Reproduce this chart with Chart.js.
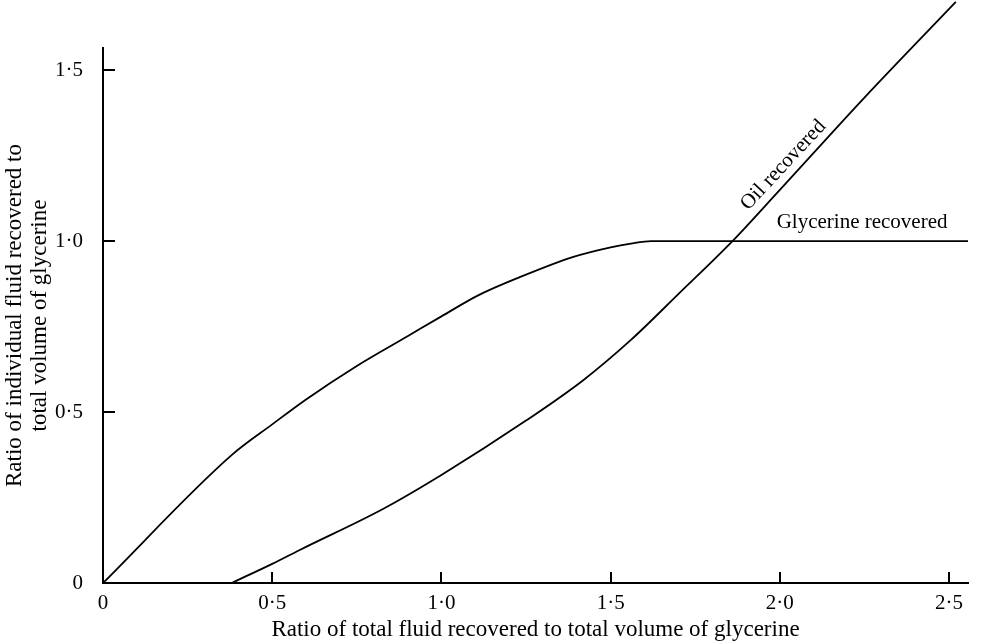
<!DOCTYPE html>
<html lang="en">
<head>
  <meta charset="UTF-8">
  <title>Fluid recovered</title>
  <style>
    html, body { margin: 0; padding: 0; background: #fff; }
    .chart-container { position: relative; width: 984px; height: 644px; }
  </style>
</head>
<body>
  <div class="chart-container">
    <canvas id="recoveryChart"></canvas>
  </div>

  <script src="https://cdn.jsdelivr.net/npm/chart.js"></script>
  <script>
    // values
    const glycerineX = [0, 0.38, 0.5, 0.6, 0.75, 0.9, 1.0, 1.11, 1.23, 1.39, 1.5, 1.56, 1.62, 2.556];
    const glycerineY = [0, 0.374, 0.464, 0.537, 0.635, 0.722, 0.78, 0.842, 0.894, 0.954, 0.982, 0.993, 1.0, 1.0];
    const oilX = [0.38, 0.5, 0.58, 0.83, 1.0, 1.25, 1.42, 1.56, 1.7, 1.86, 2.0, 2.25, 2.52];
    const oilY = [0, 0.056, 0.096, 0.218, 0.316, 0.475, 0.594, 0.711, 0.845, 1.0, 1.15, 1.42, 1.70];
    const xTicks = [0, 0.5, 1.0, 1.5, 2.0, 2.5];
    const yTicks = [0, 0.5, 1.0, 1.5];

    const serif = 'Liberation Serif';
    const toPoints = (xs, ys) => xs.map((x, i) => ({ x: x, y: ys[i] }));
    const fmt = v => v === 0 ? '0' : v.toFixed(1).replace('.', '\u00b7');

    // curve labels
    const curveLabels = {
      id: 'curveLabels',
      afterDatasetsDraw(chart) {
        const { ctx, scales: { x, y } } = chart;
        ctx.save();
        ctx.fillStyle = '#000';
        ctx.font = '21px "' + serif + '"';
        ctx.textAlign = 'center';
        ctx.textBaseline = 'middle';
        ctx.fillText('Glycerine recovered', x.getPixelForValue(2.243), y.getPixelForValue(1.0) - 19);

        // sits just above-left of the oil curve
        const px = x.getPixelForValue(2.04);
        const py = y.getPixelForValue(1.193);
        ctx.translate(px - 10, py - 10);
        ctx.rotate(-47 * Math.PI / 180);
        ctx.fillText('Oil recovered', 0, 0);
        ctx.restore();
      }
    };

    new Chart(document.getElementById('recoveryChart'), {
      type: 'line',
      data: {
        datasets: [
          {
            label: 'Glycerine recovered',
            data: toPoints(glycerineX, glycerineY),
            borderColor: '#000',
            borderWidth: 1.8,
            pointRadius: 0,
            cubicInterpolationMode: 'monotone'
          },
          {
            label: 'Oil recovered',
            data: toPoints(oilX, oilY),
            borderColor: '#000',
            borderWidth: 1.8,
            pointRadius: 0,
            cubicInterpolationMode: 'monotone',
            clip: false
          }
        ]
      },
      options: {
        responsive: true,
        maintainAspectRatio: false,
        animation: false,
        layout: { padding: { left: 0, top: 48, right: 16, bottom: 0 } },
        plugins: {
          legend: { display: false },
          tooltip: { enabled: false }
        },
        scales: {
          x: {
            type: 'linear',
            min: 0,
            max: 2.556,
            afterFit: s => { s.height = 61; },
            afterBuildTicks: s => { s.ticks = xTicks.map(v => ({ value: v })); },
            border: { display: true, color: '#000', width: 2 },
            grid: { display: true, drawOnChartArea: false, drawTicks: true, tickLength: -11, color: '#000', lineWidth: 2 },
            ticks: {
              color: '#000',
              padding: 19,
              maxRotation: 0,
              font: { family: serif, size: 21 },
              callback: v => fmt(v)
            },
            title: {
              display: true,
              text: 'Ratio of total fluid recovered to total volume of glycerine',
              color: '#000',
              font: { family: serif, size: 23, lineHeight: 1.2 },
              padding: { top: 0, bottom: 0 }
            }
          },
          y: {
            type: 'linear',
            min: 0,
            max: 1.565,
            afterFit: s => { s.width = 103; },
            afterBuildTicks: s => { s.ticks = yTicks.map(v => ({ value: v })); },
            border: { display: true, color: '#000', width: 2 },
            grid: { display: true, drawOnChartArea: false, drawTicks: true, tickLength: -12, color: '#000', lineWidth: 2 },
            ticks: {
              color: '#000',
              padding: 32,
              font: { family: serif, size: 21 },
              callback: v => fmt(v)
            },
            title: {
              display: true,
              text: ['Ratio of individual fluid recovered to', 'total volume of glycerine'],
              color: '#000',
              font: { family: serif, size: 23, lineHeight: 1.1 },
              padding: { top: 2, bottom: 0 }
            }
          }
        }
      },
      plugins: [curveLabels]
    });
  </script>
</body>
</html>
